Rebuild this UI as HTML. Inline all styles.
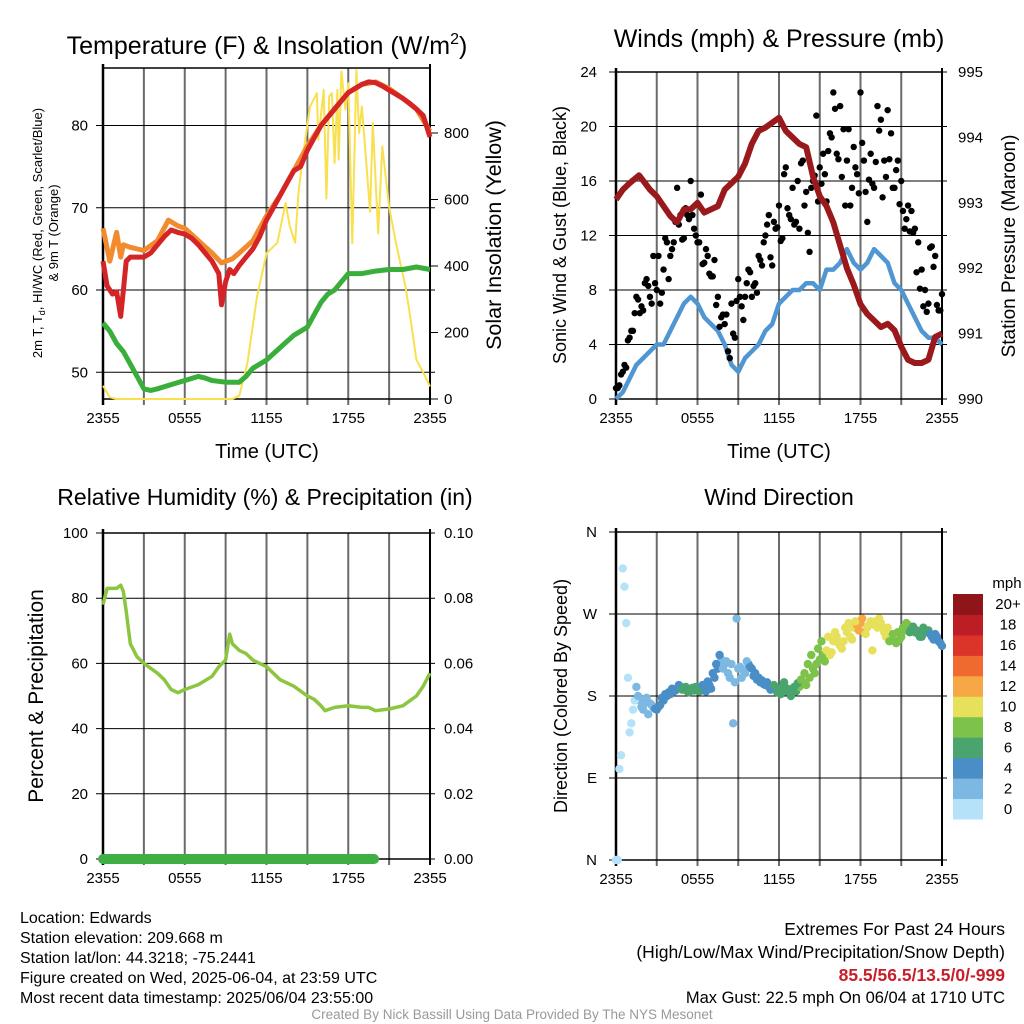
<!DOCTYPE html>
<html><head><meta charset="utf-8"><style>
html,body{margin:0;padding:0;background:#fff}
svg{display:block;font-family:"Liberation Sans",Arial,sans-serif}
</style></head><body>
<svg id="c" width="1024" height="1024" viewBox="0 0 1024 1024" xmlns="http://www.w3.org/2000/svg"></svg>
<script>
// ---------- DATA ----------
const tempT=[0,0.3,0.7,1,1.3,1.5,1.7,2,2.5,3,3.5,4,4.5,5,5.5,6,6.5,7,7.5,8,8.5,8.7,9,9.3,9.6,10,10.5,11,11.5,12,12.5,13,13.5,14,14.5,15,15.5,16,16.5,17,17.5,18,18.5,19,19.5,20,20.5,21,21.5,22,22.5,23,23.5,24];
const tempV=[63.5,60.5,59.5,59.8,56.8,60,63.5,64,64,64,64.5,65.5,66.5,67.3,67,66.8,66.3,65.5,64.5,63.5,62,58.2,61,62.5,62,63,64,65,66.5,68.5,70,71.5,73,74.5,75,77,78.5,80,81,82,83,84,84.5,85,85.3,85.2,84.8,84.3,83.8,83.3,82.7,82,81.2,78.6];
const t9T=[0,0.5,1,1.3,1.5,2,3,4,4.8,5.5,6,7,8,8.7,9.5,10,11,12,13,14,15,16,17,18,19,20,21,22,23,24];
const t9V=[67.5,63.5,67,64,65.5,65.2,64.8,66,68.5,67.8,67.5,66,64.5,63.3,63.8,64.5,66,69,71.5,74.5,77.5,80,82,84,85,85.3,84.5,83.3,82,79.3];
const dewT=[0,0.5,1,1.5,2,2.5,3,3.5,4,5,6,7,7.5,8,9,10,10.5,11,12,13,14,15,15.5,16,16.5,17,17.5,18,19,20,21,22,23,24];
const dewV=[56,55,53.5,52.5,51,49.5,48,47.8,48,48.5,49,49.5,49.3,49,48.8,48.8,49.5,50.5,51.5,53,54.5,55.5,57,58.5,59.5,60,61,62,62,62.3,62.5,62.5,62.8,62.5];
const solT=[0,0.5,1,9.5,10,10.6,11.3,12,12.8,13.4,13.7,14.1,14.35,14.7,15.2,15.7,15.8,16.2,16.4,16.6,16.8,17,17.2,17.3,17.5,17.8,18,18.3,18.6,18.8,19,19.6,19.8,20.2,20.5,21,21.5,22.2,22.5,23,23.5,24];
const solV=[40,5,0,0,10,108,308,438,470,590,520,470,620,740,880,920,780,930,603,910,920,710,930,720,985,870,950,468,990,800,880,563,830,498,760,578,470,338,260,118,80,38];

const windT=[0,0.5,1,1.5,2,2.5,3,3.5,4,4.5,5,5.5,6,6.5,7,7.5,8,8.5,9,9.5,10,10.5,11,11.5,12,12.5,13,13.5,14,14.5,15,15.5,16,16.5,17,17.5,18,18.5,19,19.5,20,20.5,21,21.5,22,22.5,23,23.5,24];
const windV=[0,0.5,1.5,2.5,3,3.5,4,4,5,6,7,7.5,7,6,5.5,5,4,2.5,2,3,3.5,4,5,5.5,7,7.5,8,8,8.5,8.5,8,9.5,9.5,10,11,10,9.5,10,11,10.5,10,8.5,8,7,6,5,4.5,4.5,4];
const gustA=[0.8,1,2,2.3,4.5,5,7.5,6.3,6.5,8.8,7.5,10.5,8,7,9.5,11.5,10.5,11.5,15.5,13.5,11.8,13.5,16,12.5,11.5,15,10,10.5,9,10.2,7.5,6,5.5,3.5,7,4.5,8.8,6.8,7.5,9.5,7.5,8.5,10.5,9.8,12,13.5,9.8,12.5,14.2,11.8,17,13.5,15.5,13,12.5,17.5,15.2,10.8,16,20.8,17,18,14.5,19.5,22.5,18,21.5,19.8,17.5,14.2,18.5,16.5,22.5,17.5,13,18,15.5,21.5,20.5,17.5,21.2,19.5,15.5,17.5,16,12.5,14.2,13.8,12.5,11.5,9.5,8,7,11.2,10.5,6.5,7.7];
const gustB=[0.8,1.8,2.5,4.3,5,6.3,7.3,6.8,8.5,8.3,7,8.5,10.5,7.8,11.8,8.8,11,13,12.8,11.7,14,13.2,13.5,12,11.5,9.9,11,9.2,9,6.9,5.3,6.2,6.2,3,4.8,7.2,7.5,5.8,8.5,9.3,8.3,7.8,10.2,11.5,12.8,10.4,13,12.6,11.6,16.5,14,13.2,12.8,16,17.3,14.2,12.2,15.5,16.4,14.5,15.8,16.5,18.2,19.2,21.3,17.6,16.3,14.2,19.8,15.5,17,15.1,18.8,15.2,16.1,15.8,17.4,19.7,14.8,16.3,17.6,15.5,16.8,14.3,13.8,13.2,12.3,12.2,9.3,8.1,6.8,6.4,11.1,9.7,6.9,6.5];
const presT=[0,0.5,1,1.7,2.5,3,3.5,4,4.5,5,5.5,6,6.5,7,7.5,8,9,9.5,10,10.5,11,12,12.5,13,13.5,14,14.5,15,15.5,16,16.5,17,17.5,18,18.5,19,19.5,20,20.5,21,21.5,22,22.5,23,23.5,24];
const presV=[993.05,993.2,993.3,993.42,993.2,993.1,992.95,992.8,992.7,992.9,992.9,993.0,992.85,992.9,992.95,993.2,993.4,993.6,993.9,994.1,994.15,994.3,994.1,994.0,993.9,993.85,993.4,993.1,992.95,992.7,992.35,992.0,991.75,991.45,991.3,991.2,991.1,991.15,991.05,990.8,990.6,990.55,990.55,990.6,990.95,991.0];

const rhT=[0,0.3,1,1.3,1.5,1.7,2,2.5,3,4,4.5,5,5.5,6,7,8,8.5,9,9.3,9.5,10,10.5,11,12,13,14,15,15.5,16,16.3,17,18,19,19.5,20,21,22,23,23.5,24];
const rhV=[78,83,83,84,82,76,66,62,60,57,55,52,51,52,53.5,56,59,61,69,66,64,63,61,59,55,53,50,49,47,45.5,46.5,47,46.5,46.5,45.5,46,47,50,53,57];
const precipT=[0,19.9];
const precipV=[0,0];

const dirA=[0,100,320,260,140,165,190,175,165,178,172,168,165,170,175,180,182,185,188,190,188,185,187,186,188,186,190,196,188,200,210,220,215,205,215,195,210,200,205,215,210,205,200,197,192,190,189,188,186,190,185,184,188,185,190,195,192,200,210,215,220,225,230,225,240,245,235,240,250,245,255,258,260,250,255,262,258,255,260,250,255,245,240,250,245,252,258,255,250,248,245,250,252,245,248,240,235];
const dirB=[0,115,300,200,150,175,180,168,172,160,170,166,168,178,182,184,188,186,192,187,190,184,189,190,185,192,185,192,205,215,225,210,218,200,150,265,212,208,218,212,202,198,195,193,195,187,192,184,182,195,188,180,190,194,198,205,215,225,205,232,240,218,245,228,250,238,232,255,260,242,262,252,265,248,258,230,262,265,255,245,240,248,238,242,255,260,250,256,252,245,255,250,248,242,245,238];
// speed used for direction colouring, hourly
const dirSpeed=[1,1,3,4.5,5,6.5,6.5,5,3.5,3,4.5,5,7,7.5,8.5,9.5,10.5,11,12.5,11,10,8.5,7.5,6,4.5];

const tempTicks=[50,60,70,80];
const solTicks=[0,200,400,600,800];
const windTicks=[0,4,8,12,16,20,24];
const presTicks=[990,991,992,993,994,995];
const rhTicks=[0,20,40,60,80,100];
const prTicks=["0.00","0.02","0.04","0.06","0.08","0.10"];
const dirTicks=["N","E","S","W","N"];
const timeLabels=["2355","0555","1155","1755","2355"];
const speedLabels=["0","2","4","6","8","10","12","14","16","18","20+"];
const speedColors=["#b5e2f8","#7db8e2","#4a8ec7","#49a56d","#7cc24b","#e6e05a","#f5a843","#ef6a2e","#dc3428","#bd1e25","#8f1519"];

// ---------- HELPERS ----------
const S=document.getElementById('c');const NS="http://www.w3.org/2000/svg";
function el(tag,attrs,parent){const e=document.createElementNS(NS,tag);for(const k in attrs)e.setAttribute(k,attrs[k]);(parent||S).appendChild(e);return e;}
function txt(x,y,s,size,anchor,parent,extra){const e=el('text',Object.assign({x:x,y:y,'font-size':size,'text-anchor':anchor||'middle',fill:'#000'},extra||{}),parent);e.textContent=s;return e;}
function lin(d0,d1,r0,r1){return v=>r0+(v-d0)/(d1-d0)*(r1-r0);}
function path(xs,ys,fx,fy){let d='';for(let i=0;i<xs.length;i++)d+=(i?'L':'M')+fx(xs[i]).toFixed(1)+','+fy(ys[i]).toFixed(1);return d;}
function interp(ts,vs,t){for(let i=1;i<ts.length;i++)if(t<=ts[i]){const f=(t-ts[i-1])/(ts[i]-ts[i-1]);return vs[i-1]+f*(vs[i]-vs[i-1]);}return vs[vs.length-1];}
const defs=el('defs',{});
function clip(id,x0,y0,x1,y1){const c=el('clipPath',{id:id},defs);el('rect',{x:x0-6,y:y0,width:x1-x0+12,height:y1-y0+6},c);}

function frame(g,x0,y0,x1,y1,hTicksY){
  const fx=lin(0,24,x0,x1);
  for(let k=1;k<8;k++){const x=fx(k*3);const l=el('line',{x1:x,y1:y0,x2:x,y2:y1+6,stroke:'#6a6a6a','stroke-width':2},g);}
  hTicksY.forEach(y=>{const l=el('line',{x1:x0-7,y1:y,x2:x1+5,y2:y,stroke:'#000','stroke-width':1},g);});
  const r=el('rect',{x:x0,y:y0,width:x1-x0,height:y1-y0,fill:'none',stroke:'#000','stroke-width':1.5},g);
  el('line',{x1:x0,y1:y0-4,x2:x0,y2:y1+6,stroke:'#000','stroke-width':2.5},g);
  el('line',{x1:x1,y1:y0-4,x2:x1,y2:y1+6,stroke:'#000','stroke-width':2},g);
  timeLabels.forEach((s,i)=>{const t=txt(fx(i*6),y1+24,s,15,'middle',g);});
  return fx;
}

// ---------- PANEL 1 ----------
(function(){
  const g=el('g',{});
  const x0=103,x1=430,y0=68,y1=399;
  clip('c1',x0,y0,x1,y1);
  const fy=lin(80,50,125.5,372.3), fs=lin(0,800,399,133);
  const fx=frame(g,x0,y0,x1,y1,tempTicks.map(fy));
  tempTicks.forEach(v=>{const t=txt(88,fy(v)+5,String(v),15,'end',g);});
  solTicks.forEach(v=>{el('line',{x1:x1,y1:fs(v),x2:x1+8,y2:fs(v),stroke:'#000'},g);const t=txt(444,fs(v)+5,String(v),15,'start',g);});
  const cg=el('g',{'clip-path':'url(#c1)'},g);
  const sol=el('path',{d:path(solT,solV,fx,fs),fill:'none',stroke:'#f9e04f','stroke-width':2,'stroke-linejoin':'round'},cg);
  const dew=el('path',{d:path(dewT,dewV,fx,fy),fill:'none',stroke:'#3aae3a','stroke-width':5,'stroke-linejoin':'round'},cg);
  const o=el('path',{d:path(t9T,t9V,fx,fy),fill:'none',stroke:'#f28a2e','stroke-width':5,'stroke-linejoin':'round'},cg);
  const r=el('path',{d:path(tempT,tempV,fx,fy),fill:'none',stroke:'#d42426','stroke-width':5,'stroke-linejoin':'round'},cg);
  const ti=txt(267,54,'',25,'middle',g);ti.innerHTML='Temperature (F) &amp; Insolation (W/m<tspan dy="-10" font-size="16">2</tspan><tspan dy="10">)</tspan>';
  const xt=txt(267,458,'Time (UTC)',20,'middle',g);
  const yt=el('text',{transform:'translate(42,233) rotate(-90)','font-size':13,'text-anchor':'middle'},g);yt.innerHTML='2m T, T<tspan dy="3" font-size="9">d</tspan><tspan dy="-3">, HI/WC (Red, Green, Scarlet/Blue)</tspan>';
  const yt2=el('text',{transform:'translate(58,233) rotate(-90)','font-size':13,'text-anchor':'middle'},g);yt2.textContent='& 9m T (Orange)';
  const rt=el('text',{transform:'translate(501,235) rotate(-90)','font-size':21.5,'text-anchor':'middle'},g);rt.textContent='Solar Insolation (Yellow)';
})();

// ---------- PANEL 2 ----------
(function(){
  const g=el('g',{});
  const x0=616,x1=942,y0=72,y1=399;
  clip('c2',x0,y0,x1,y1);
  const fy=lin(0,24,399,72), fp=lin(990,995,399,72);
  const fx=frame(g,x0,y0,x1,y1,windTicks.map(fy));
  windTicks.forEach(v=>{const t=txt(597,fy(v)+5,String(v),15,'end',g);});
  presTicks.forEach(v=>{const t=txt(958,fp(v)+5,String(v),15,'start',g);});
  const cg=el('g',{'clip-path':'url(#c2)'},g);
  const w=el('path',{d:path(windT,windV,fx,fy),fill:'none',stroke:'#4f96d2','stroke-width':4.5,'stroke-linejoin':'round'},cg);
  gustA.forEach((v,i)=>{const c=el('circle',{cx:fx(i*0.25),cy:fy(v),r:3.2,fill:'#000'},cg);});
  gustB.forEach((v,i)=>{const c=el('circle',{cx:fx(i*0.25+0.125),cy:fy(v),r:3.2,fill:'#000'},cg);});
  const p=el('path',{d:path(presT,presV,fx,fp),fill:'none',stroke:'#99191c','stroke-width':6,'stroke-linejoin':'round'},cg);
  const ti=txt(779,47,'Winds (mph) & Pressure (mb)',25,'middle',g);
  const xt=txt(779,458,'Time (UTC)',20,'middle',g);
  const yt=el('text',{transform:'translate(566,235) rotate(-90)','font-size':18,'text-anchor':'middle'},g);yt.textContent='Sonic Wind & Gust (Blue, Black)';
  const rt=el('text',{transform:'translate(1015,246) rotate(-90)','font-size':19,'text-anchor':'middle'},g);rt.textContent='Station Pressure (Maroon)';
})();

// ---------- PANEL 3 ----------
(function(){
  const g=el('g',{});
  const x0=103,x1=430,y0=533,y1=859;
  const fy=lin(0,100,859,533), fpr=lin(0,0.1,859,533);
  const fx=frame(g,x0,y0,x1,y1,rhTicks.map(fy));
  rhTicks.forEach(v=>{const t=txt(88,fy(v)+5,String(v),15,'end',g);});
  prTicks.forEach(s=>{const t=txt(444,fpr(parseFloat(s))+5,s,15,'start',g);});
  const rh=el('path',{d:path(rhT,rhV,fx,fy),fill:'none',stroke:'#8cc63f','stroke-width':3.5,'stroke-linejoin':'round'},g);
  const pr=el('path',{d:path(precipT,precipV,fx,fpr),fill:'none',stroke:'#3fae45','stroke-width':10,'stroke-linecap':'round'},g);
  const ti=txt(265,505,'Relative Humidity (%) & Precipitation (in)',23,'middle',g);
  const yt=el('text',{transform:'translate(43,696) rotate(-90)','font-size':21,'text-anchor':'middle'},g);yt.textContent='Percent & Precipitation';
})();

// ---------- PANEL 4 ----------
(function(){
  const g=el('g',{});
  const x0=616,x1=942,y0=532,y1=860;
  const fy=lin(0,360,860,532);
  const fx=frame(g,x0,y0,x1,y1,[0,90,180,270,360].map(fy));
  dirTicks.forEach((s,i)=>{const t=txt(597,fy(i*90)+5,s,15,'end',g);});
  const hours=dirSpeed.map((v,i)=>i);
  function col(sp){return speedColors[Math.min(10,Math.max(0,Math.floor(sp/2)))];}
  function dot(t,d){const sp=interp(hours,dirSpeed,t);const c=el('circle',{cx:fx(t),cy:fy(d),r:4.2,fill:col(sp)},g);}
  dirA.forEach((d,i)=>dot(i*0.25,d));
  dirB.forEach((d,i)=>dot(i*0.25+0.125,d));
  const ti=txt(779,505,'Wind Direction',23,'middle',g);
  const yt=el('text',{transform:'translate(567,696) rotate(-90)','font-size':18,'text-anchor':'middle'},g);yt.textContent='Direction (Colored By Speed)';
  const lg=el('g',{},g);
  const lt=txt(1007,588,'mph',15,'middle',lg);
  const n=speedColors.length, bh=(819-594)/n;
  for(let i=0;i<n;i++){const yy=819-(i+1)*bh;const r=el('rect',{x:953,y:yy,width:30,height:bh+0.5,fill:speedColors[i]},lg);
    const t=txt(1008,yy+bh/2+5,speedLabels[i],15,'middle',lg);}
})();

// ---------- FOOTER ----------
(function(){
  const g=el('g',{});
  ['Location: Edwards','Station elevation: 209.668 m','Station lat/lon: 44.3218; -75.2441','Figure created on Wed, 2025-06-04, at 23:59 UTC','Most recent data timestamp: 2025/06/04 23:55:00'].forEach((s,i)=>{const t=txt(20,923+i*20,s,16,'start',g);});
  const h=el('g',{});
  let t=txt(1005,935,'Extremes For Past 24 Hours',17.5,'end',h);
  t=txt(1005,958,'(High/Low/Max Wind/Precipitation/Snow Depth)',17.5,'end',h);
  t=txt(1005,981,'85.5/56.5/13.5/0/-999',17.5,'end',h,{fill:'#c8202a','font-weight':'bold'});
  t=txt(1005,1003,'Max Gust: 22.5 mph On 06/04 at 1710 UTC',16.5,'end',h);
  t=txt(512,1019,'Created By Nick Bassill Using Data Provided By The NYS Mesonet',13.5,'middle',null,{fill:'#999'});
})();
</script>
</body></html>
